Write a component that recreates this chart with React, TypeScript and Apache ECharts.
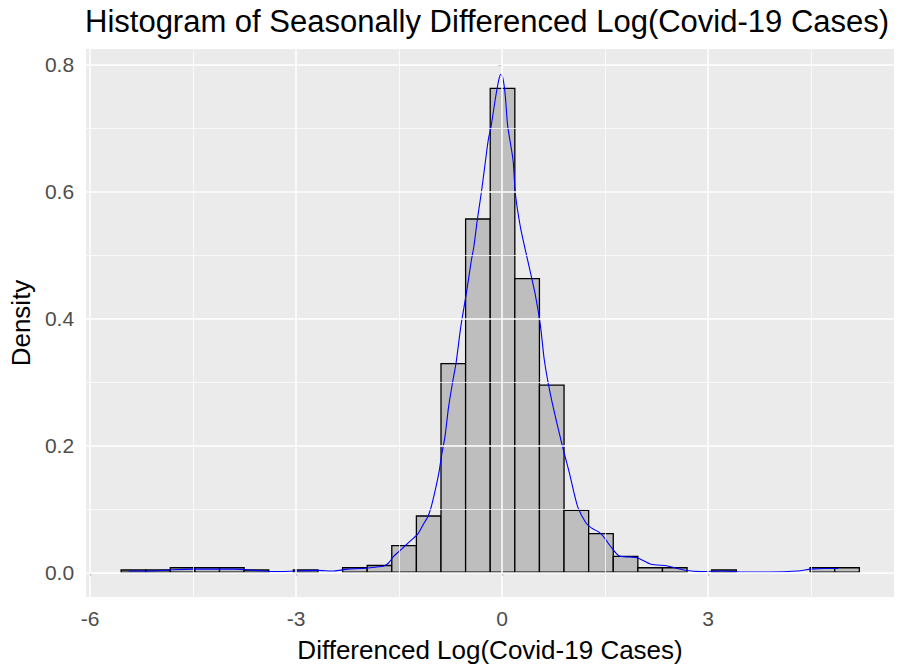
import React, { useEffect, useRef } from "react";
import * as echarts from "echarts";

// Histogram bins (ggplot default 30 bins)
const binStart = -5.55;
const binWidth = 0.3585;
const binDensity = [
  0.0036, 0.0036, 0.0071, 0.0071, 0.0071, 0.0036, 0, 0.0036, 0, 0.0071,
  0.0107, 0.042, 0.0887, 0.329, 0.557, 0.763, 0.463, 0.295, 0.0976, 0.061,
  0.025, 0.0071, 0.0071, 0, 0.0036, 0, 0, 0, 0.0071, 0.0071,
];

// Kernel density curve
const kdeX = [
  -5.44, -5.1, -4.8, -4.5, -4.2, -3.9, -3.6, -3.3, -3.0, -2.7, -2.45, -2.25,
  -2.05, -1.85, -1.72, -1.65, -1.58, -1.5, -1.42, -1.33, -1.23, -1.15, -1.08,
  -1.03, -0.97, -0.92, -0.88, -0.83, -0.78, -0.72, -0.67, -0.6, -0.52, -0.45,
  -0.41, -0.36, -0.3, -0.24, -0.2, -0.16, -0.1, -0.05, -0.02, 0.01, 0.044,
  0.083, 0.16, 0.193, 0.266, 0.35, 0.48, 0.56, 0.615, 0.7, 0.81, 0.9, 0.98,
  1.1, 1.22, 1.3, 1.44, 1.58, 1.7, 1.85, 1.97, 2.17, 2.41, 2.65, 2.9, 3.2,
  3.5, 3.9, 4.3, 4.5, 4.7, 4.9,
];
const kdeY = [
  0.002, 0.002, 0.004, 0.005, 0.005, 0.005, 0.003, 0.001, 0.002, 0.003, 0.002,
  0.005, 0.006, 0.008, 0.01, 0.015, 0.025, 0.033, 0.041, 0.05, 0.06, 0.075,
  0.088, 0.104, 0.131, 0.157, 0.185, 0.215, 0.26, 0.3, 0.33, 0.388, 0.44, 0.49,
  0.514, 0.556, 0.6, 0.65, 0.682, 0.703, 0.745, 0.775, 0.785, 0.78, 0.755,
  0.703, 0.65, 0.598, 0.545, 0.503, 0.44, 0.388, 0.335, 0.283, 0.23, 0.19,
  0.157, 0.104, 0.078, 0.07, 0.061, 0.041, 0.026, 0.024, 0.023, 0.0126, 0.01,
  0.0036, 0.001, 0.002, 0.0005, 0.0005, 0.002, 0.005, 0.006, 0.006,
];

const xTicks = [-6, -3, 0, 3];
const xMinor = [-4.5, -1.5, 1.5, 4.5];
const yTicks = [0, 0.2, 0.4, 0.6, 0.8];
const yMinor = [0.1, 0.3, 0.5, 0.7];

const FONT = "'Liberation Sans', Arial, sans-serif";

export default function App() {
  const ref = useRef<HTMLDivElement>(null);
  useEffect(() => {
    document.body.style.margin = "0";
    if (!ref.current) return;
    const chart = echarts.init(ref.current, null, { renderer: "svg" });
    const bars = binDensity
      .map((d, i) => [binStart + i * binWidth, binStart + (i + 1) * binWidth, d])
      .filter((b) => b[2] > 0);
    const gridLines = [
      ...xTicks.map((v) => ({ xAxis: v, lineStyle: { width: 1.5 } })),
      ...xMinor.map((v) => ({ xAxis: v, lineStyle: { width: 0.75 } })),
      ...yTicks.map((v) => ({ yAxis: v, lineStyle: { width: 1.5 } })),
      ...yMinor.map((v) => ({ yAxis: v, lineStyle: { width: 0.75 } })),
    ];
    chart.setOption({
      animation: false,
      title: {
        text: "Histogram of Seasonally Differenced Log(Covid-19 Cases)",
        left: 80,
        top: 1,
        textStyle: { fontFamily: FONT, fontSize: 31, fontWeight: "normal", color: "#000" },
      },
      grid: {
        left: 85,
        right: 11,
        top: 49,
        bottom: 70,
        show: true,
        backgroundColor: "#EBEBEB",
        borderWidth: 0,
      },
      xAxis: {
        type: "value",
        min: -6.06,
        max: 5.71,
        name: "Differenced Log(Covid-19 Cases)",
        nameLocation: "middle",
        nameGap: 40,
        nameTextStyle: { fontFamily: FONT, fontSize: 26, color: "#000" },
        splitLine: { show: false },
        axisLine: { show: false },
        axisTick: { show: true, customValues: xTicks, length: 4, lineStyle: { color: "#333", width: 1.1 } },
        axisLabel: {
          customValues: xTicks,
          color: "#4D4D4D",
          fontFamily: FONT,
          fontSize: 21,
          margin: 11,
        },
      },
      yAxis: {
        type: "value",
        min: -0.039,
        max: 0.825,
        name: "Density",
        nameLocation: "middle",
        nameRotate: 90,
        nameGap: 50,
        nameTextStyle: { fontFamily: FONT, fontSize: 26, color: "#000" },
        splitLine: { show: false },
        axisLine: { show: false },
        axisTick: { show: true, customValues: yTicks, length: 4, lineStyle: { color: "#333", width: 1.1 } },
        axisLabel: {
          customValues: yTicks,
          color: "#4D4D4D",
          fontFamily: FONT,
          fontSize: 21,
          margin: 12,
          formatter: (v: number) => v.toFixed(1),
        },
      },
      series: [
        {
          type: "line",
          z: 1,
          data: [],
          silent: true,
          markLine: {
            silent: true,
            symbol: ["none", "none"],
            label: { show: false },
            lineStyle: { color: "#FFFFFF", type: "solid" },
            emphasis: { disabled: true },
            data: gridLines,
          },
        },
        {
          type: "custom",
          z: 2,
          silent: true,
          data: bars,
          renderItem: (params: any, api: any) => {
            const p0 = api.coord([api.value(0), api.value(2)]);
            const p1 = api.coord([api.value(1), 0]);
            return {
              type: "rect",
              shape: { x: p0[0], y: p0[1], width: p1[0] - p0[0], height: p1[1] - p0[1] },
              style: { fill: "#BEBEBE", stroke: "#000", lineWidth: 1.3 },
            };
          },
        },
        {
          type: "line",
          z: 3,
          silent: true,
          data: kdeX.map((x, i) => [x, kdeY[i]]),
          showSymbol: false,
          smooth: 0.25,
          lineStyle: { color: "#0000FF", width: 1.1 },
        },
      ],
    });
    return () => chart.dispose();
  }, []);
  return <div ref={ref} style={{ width: 905, height: 668 }} />;
}
